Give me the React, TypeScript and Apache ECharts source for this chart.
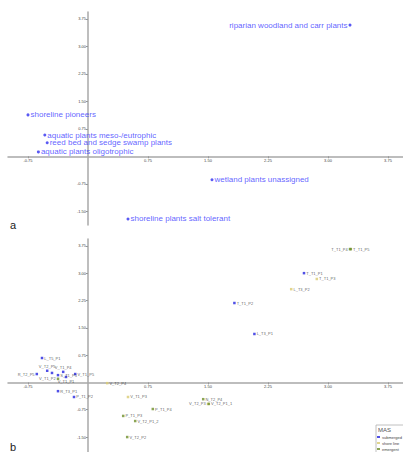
import React, { useEffect, useRef } from 'react';
import * as echarts from 'echarts';

// ---- Panel a: species groups ----
const groupNames = [
  'riparian woodland and carr plants',
  'shoreline pioneers',
  'aquatic plants meso-/eutrophic',
  'reed bed and sedge swamp plants',
  'aquatic plants oligotrophic',
  'wetland plants unassigned',
  'shoreline plants salt tolerant',
];
const groupX = [3.275, -0.75, -0.54, -0.51, -0.62, 1.55, 0.5];
const groupY = [3.58, 1.13, 0.58, 0.37, 0.12, -0.64, -1.71];
const groupLabelSide = ['left', 'right', 'right', 'right', 'right', 'right', 'right'];

// ---- Panel b: sites ----
const mas = ['submerged', 'shore line', 'emergent'];
const siteNames = [
  'T_T1_P4', 'T_T1_P5', 'T_T1_P1', 'T_T1_P3', 'L_T3_P2', 'T_T1_P2', 'L_T3_P1',
  'L_T5_P1', 'V_T2_P5', 'V_T1_P4', 'R_T2_P5', 'V_T2_P6', 'S_T1_P5', 'V_T1_P5',
  'V_T1_P2', 'V_T1_P1', 'R_T3_P1', 'P_T1_P2',
  'V_T2_P4', 'V_T1_P3', 'P_T1_P4', 'P_T1_P3', 'V_T2_P1_2', 'V_T2_P2',
  'N_T2_P4', 'V_T2_P3', 'V_T2_P1_1',
];
const siteX = [
  3.275, 3.285, 2.7, 2.86, 2.54, 1.83, 2.08,
  -0.575, -0.51, -0.31, -0.64, -0.45, -0.375, -0.16,
  -0.375, -0.275, -0.375, -0.175,
  0.24, 0.5, 0.81, 0.44, 0.59, 0.49,
  1.44, 1.5, 1.51,
];
const siteY = [
  3.66, 3.66, 3.0, 2.84, 2.56, 2.18, 1.33,
  0.67, 0.32, 0.29, 0.23, 0.26, 0.2, 0.23,
  0.1, 0.15, -0.24, -0.4,
  -0.02, -0.4, -0.73, -0.92, -1.06, -1.5,
  -0.46, -0.59, -0.59,
];
const siteGroup = [
  2, 2, 0, 1, 1, 0, 0,
  0, 0, 0, 0, 0, 0, 0,
  2, 0, 0, 0,
  1, 1, 2, 2, 2, 2,
  2, 1, 2,
];
const siteLabelSide = [
  'left', 'right', 'right', 'right', 'right', 'right', 'right',
  'right', 'top', 'top', 'left', 'none', 'right', 'right',
  'left', 'bottom', 'right', 'right',
  'right', 'right', 'right', 'right', 'right', 'right',
  'right', 'left', 'right',
];

const xTicks = [-0.75, 0.75, 1.5, 2.25, 3, 3.75];
const yTicks = [-1.5, -0.75, 0.75, 1.5, 2.25, 3, 3.75];

const masColors = ['#2424e0', '#d9cb72', '#6e8f2a'];
const FONT = 'Liberation Sans, Arial, sans-serif';

// layout
const GL = 8;
const GW = 395;
const XMIN = -1;
const XMAX = 3.9375;
const panels = [
  { top: 12, height: 213, ymin: -1.875, ymax: 3.9375 },
  { top: 239, height: 214, ymin: -1.9375, ymax: 3.9375 },
];

export default function App() {
  const ref = useRef<HTMLDivElement>(null);
  useEffect(() => {
    if (!ref.current) return;
    const chart = echarts.init(ref.current, undefined, { renderer: 'svg' });

    const xZeroOffset = -((0 - XMIN) / (XMAX - XMIN)) * GW;

    const axisLabelBase = {
      formatter: (v: number) => v.toFixed(2),
      fontSize: 4,
      color: '#444',
      margin: 2,
      fontFamily: FONT,
    };

    const xAxes = panels.map((p, gi) => {
      const yZeroFromBottom = ((0 - p.ymin) / (p.ymax - p.ymin)) * p.height;
      return {
        type: 'value',
        gridIndex: gi,
        position: 'bottom',
        offset: -yZeroFromBottom,
        min: XMIN,
        max: XMAX,
        splitLine: { show: false },
        axisLine: { onZero: false, lineStyle: { color: '#a8a8a8', width: 1.5 } },
        axisTick: { customValues: xTicks, length: 2, lineStyle: { color: '#999' } },
        axisLabel: { ...axisLabelBase, customValues: xTicks },
      };
    });
    const yAxes = panels.map((p, gi) => ({
      type: 'value',
      gridIndex: gi,
      position: 'left',
      offset: xZeroOffset,
      min: p.ymin,
      max: p.ymax,
      splitLine: { show: false },
      axisLine: { onZero: false, lineStyle: { color: '#a8a8a8', width: 1.5 } },
      axisTick: { customValues: yTicks, length: 2, lineStyle: { color: '#999' } },
      axisLabel: { ...axisLabelBase, customValues: yTicks },
    }));

    const aData = groupNames.map((n, i) => ({
      name: n,
      value: [groupX[i], groupY[i]],
      label: { position: groupLabelSide[i] },
    }));

    const bSeries = mas.map((m, g) => ({
      type: 'scatter',
      name: m,
      xAxisIndex: 1,
      yAxisIndex: 1,
      symbol: 'rect',
      symbolSize: 2.5,
      itemStyle: { color: masColors[g] },
      label: {
        show: true,
        formatter: '{b}',
        fontSize: 4,
        color: '#333',
        distance: 1,
        fontFamily: FONT,
      },
      data: siteNames
        .map((n, i) => ({ n, i }))
        .filter((o) => siteGroup[o.i] === g)
        .map(({ n, i }) => ({
          name: n,
          value: [siteX[i], siteY[i]],
          label:
            siteLabelSide[i] === 'none'
              ? { show: false }
              : { position: siteLabelSide[i] },
        })),
    }));

    chart.setOption({
      animation: false,
      backgroundColor: '#fff',
      grid: panels.map((p) => ({
        left: GL,
        width: GW,
        top: p.top,
        height: p.height,
        outerBoundsMode: 'none',
        containLabel: false,
      })),
      xAxis: xAxes,
      yAxis: yAxes,
      legend: {
        data: mas,
        orient: 'vertical',
        left: 377,
        top: 435,
        padding: 0,
        itemWidth: 3,
        itemHeight: 2,
        itemGap: 2,
        icon: 'rect',
        textStyle: { fontSize: 4, color: '#444', fontFamily: FONT, padding: [0, 0, 0, -3] },
        z: 10,
      },
      graphic: [
        {
          type: 'rect',
          shape: { x: 376, y: 425, width: 40, height: 40 },
          style: { fill: '#fff', stroke: '#b0b0b0', lineWidth: 0.8 },
          z: 5,
        },
        {
          type: 'text',
          x: 378,
          y: 427,
          z: 6,
          style: { text: 'MAS', fontSize: 6, fill: '#555', fontFamily: FONT },
        },
        {
          type: 'text',
          x: 10,
          y: 219,
          style: { text: 'a', fontSize: 11, fill: '#222', fontFamily: FONT },
        },
        {
          type: 'text',
          x: 10,
          y: 441,
          style: { text: 'b', fontSize: 11, fill: '#222', fontFamily: FONT },
        },
      ],
      series: [
        {
          type: 'scatter',
          xAxisIndex: 0,
          yAxisIndex: 0,
          symbol: 'circle',
          symbolSize: 3,
          itemStyle: { color: '#3030f0' },
          label: {
            show: true,
            formatter: '{b}',
            fontSize: 8,
            color: '#3838ff',
            distance: 1,
            fontFamily: FONT,
          },
          data: aData,
        },
        ...bSeries,
      ],
    });
    return () => chart.dispose();
  }, []);
  return <div ref={ref} style={{ width: 403, height: 452, position: 'absolute', left: 0, top: 0 }} />;
}
